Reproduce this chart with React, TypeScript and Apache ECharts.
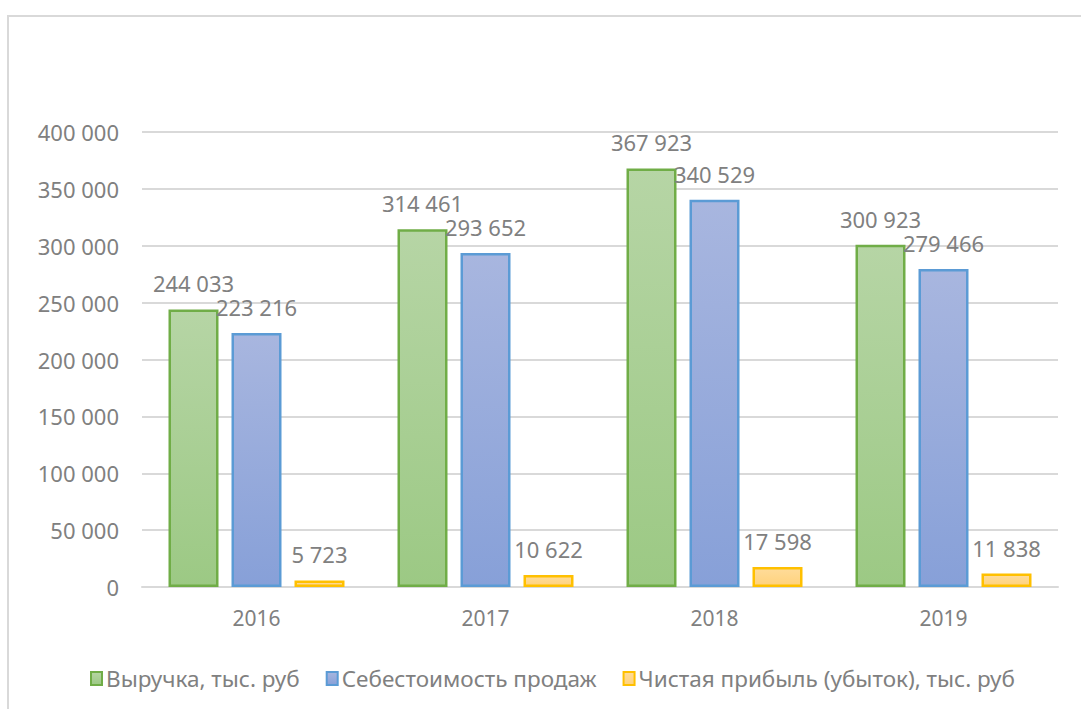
import React, { useEffect, useRef } from "react";
import * as echarts from "echarts";

const categories = ["2016", "2017", "2018", "2019"];
const revenue = [244033, 314461, 367923, 300923];
const cost = [223216, 293652, 340529, 279466];
const profit = [5723, 10622, 17598, 11838];
const seriesNames = [
  "Выручка, тыс. руб",
  "Себестоимость продаж",
  "Чистая прибыль (убыток), тыс. руб",
];
const yTicks = [0, 50000, 100000, 150000, 200000, 250000, 300000, 350000, 400000];

const fmt = (v: number) => {
  const s = Math.round(v).toString();
  return s.replace(/\B(?=(\d{3})+(?!\d))/g, " ");
};

const FONT = "'Noto Sans', 'Open Sans', sans-serif";
const TXT = "#808080";

const grad = (top: string, bottom: string) =>
  new echarts.graphic.LinearGradient(0, 0, 0, 1, [
    { offset: 0, color: top },
    { offset: 1, color: bottom },
  ]);

export default function App() {
  const ref = useRef<HTMLDivElement>(null);
  useEffect(() => {
    if (!ref.current) return;
    const chart = echarts.init(ref.current, undefined, { renderer: "svg" });
    const label = {
      show: true,
      position: "top" as const,
      distance: 15,
      color: TXT,
      fontFamily: FONT,
      fontSize: 22,
      formatter: (p: any) => fmt(p.value),
    };
    const styles = [
      { fill: grad("#b6d5a5", "#9cc984"), border: "#70ad47" },
      { fill: grad("#a8b6df", "#87a0d8"), border: "#5b9bd5" },
      { fill: grad("#ffdc9a", "#ffd27c"), border: "#ffc000" },
    ];
    const datas = [revenue, cost, profit];
    chart.setOption({
      animation: false,
      backgroundColor: "#ffffff",
      textStyle: { fontFamily: FONT },
      graphic: [
        {
          type: "rect",
          shape: { x: 8, y: 16, width: 1300, height: 900 },
          style: { fill: "none", stroke: "#d9d9d9", lineWidth: 2 },
          silent: true,
        },
      ],
      grid: { left: 142, right: 23, top: 132, bottom: 709 - 587, containLabel: false },
      legend: {
        left: 90,
        top: 667,
        padding: 0,
        itemWidth: 11,
        itemHeight: 13,
        itemGap: 26,
        icon: "rect",
        textStyle: { color: TXT, fontFamily: FONT, fontSize: 22.5, padding: [0, 0, 0, -1] },
        data: seriesNames,
      },
      xAxis: {
        type: "category",
        data: categories,
        axisLine: { show: true, lineStyle: { color: "#d9d9d9", width: 2 } },
        axisTick: { show: false },
        axisLabel: { color: TXT, fontFamily: FONT, fontSize: 21, margin: 20 },
      },
      yAxis: {
        type: "value",
        min: 0,
        max: yTicks[yTicks.length - 1],
        interval: yTicks[1] - yTicks[0],
        axisLine: { show: false },
        axisTick: { show: false },
        splitLine: { lineStyle: { color: "#d9d9d9", width: 2 } },
        axisLabel: {
          color: TXT,
          fontFamily: FONT,
          fontSize: 22,
          margin: 23,
          formatter: (v: number) => fmt(v),
        },
      },
      series: datas.map((d, i) => ({
        name: seriesNames[i],
        type: "bar",
        data: d,
        barWidth: 50,
        barGap: "26%",
        label,
        itemStyle: {
          color: styles[i].fill,
          borderColor: styles[i].border,
          borderWidth: 2.5,
        },
      })),
    });
    return () => chart.dispose();
  }, []);
  return (
    <div
      ref={ref}
      style={{ position: "fixed", left: 0, top: 0, width: 1081, height: 709 }}
    />
  );
}
